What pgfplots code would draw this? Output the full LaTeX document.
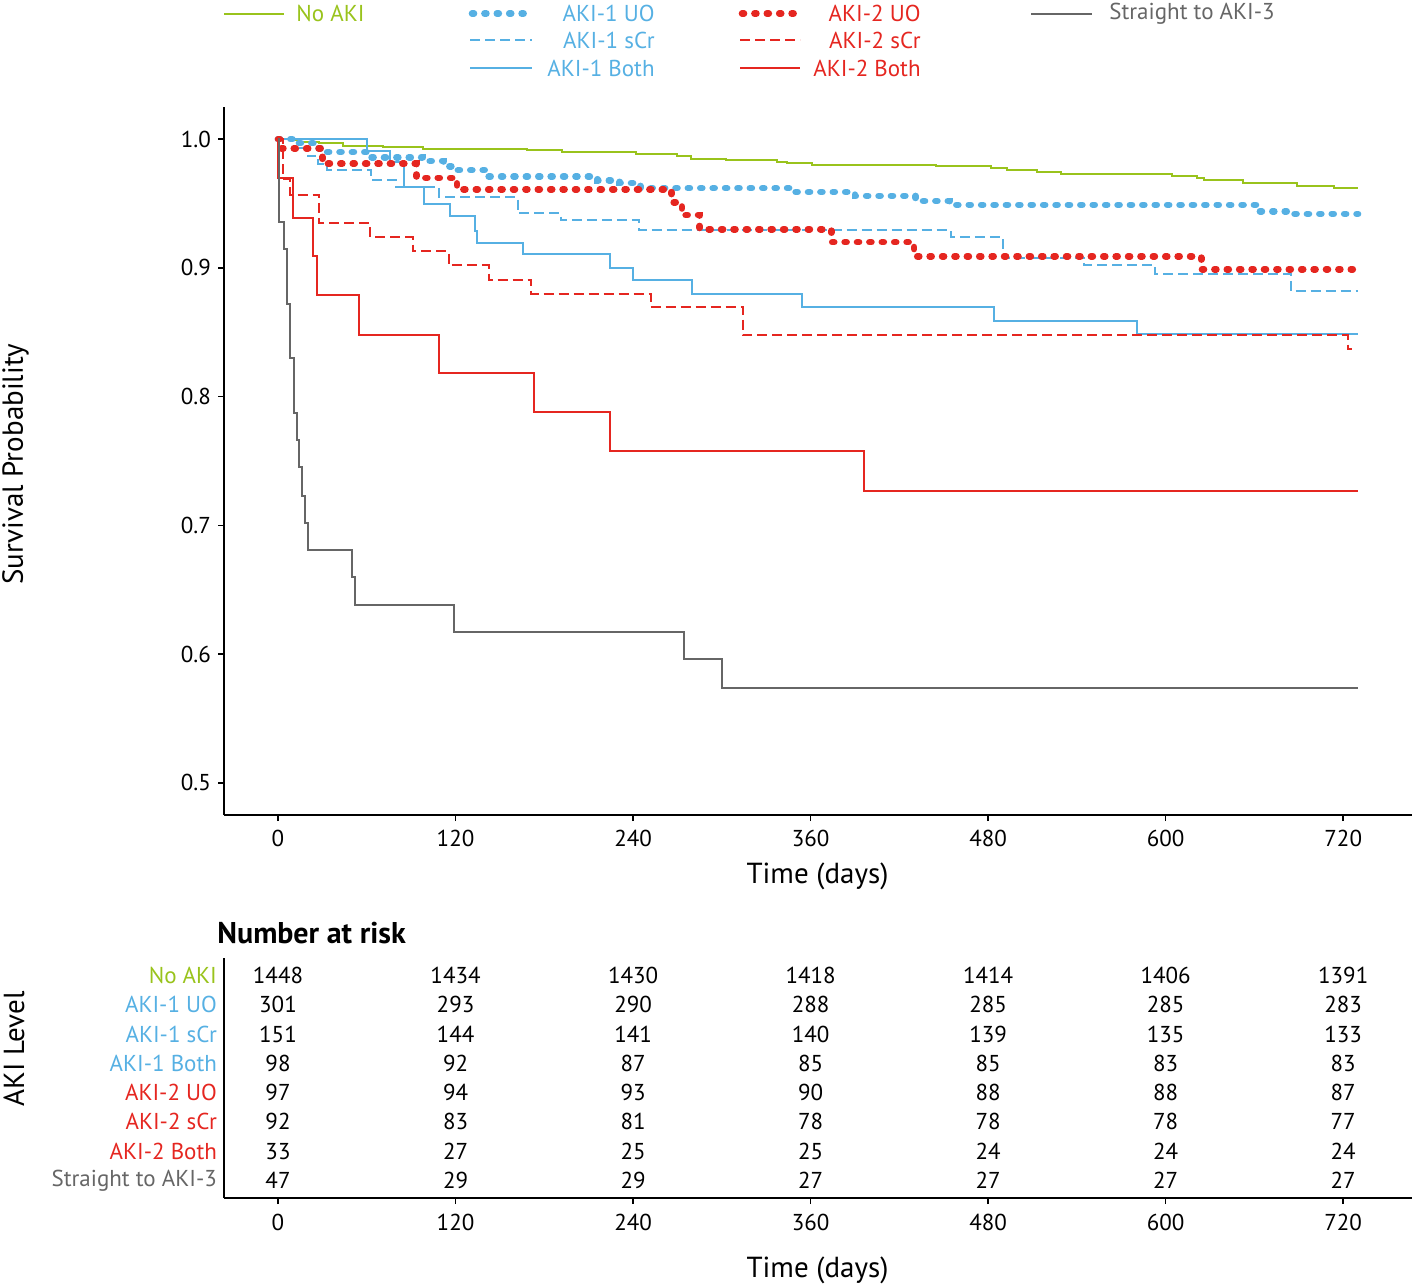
\documentclass[border=0pt]{standalone}
\usepackage{pgfplots}
\pgfplotsset{compat=1.18}
\usepackage{fontspec}
\setmainfont{PT Sans}
\definecolor{cgreen}{HTML}{99C31C}
\definecolor{cblue}{HTML}{56B0E3}
\definecolor{cred}{HTML}{E52620}
\definecolor{cgray}{HTML}{666666}
\newcommand\fs{\fontsize{11.5}{13.8}\selectfont}
\newcommand\fl{\fontsize{14.5}{17}\selectfont}
\tikzset{
  kmthin/.style={line width=1pt},
  kmdash/.style={line width=1pt, dash pattern=on 5pt off 2.5pt},
  kmdot/.style={line width=3.3pt, dash pattern=on 1pt off 5.2pt, line cap=round},
}
\pgfplotsset{
  kmaxis/.style={
    width=594pt, scale only axis,
    xmin=-36.5, xmax=766.5,
    axis lines=left, axis line style={-, line width=1pt, black},
    tick align=outside, major tick length=3pt,
    tick style={line width=0.8pt, black},
    xtick={0,120,240,360,480,600,720},
    xticklabels={0,120,240,360,480,600,720},
    tick label style={font=\fs},
    xticklabel style={yshift=-1pt},
  }
}
\begin{document}
\begin{tikzpicture}
\path[use as bounding box] (0,0) rectangle (709pt,-643.5pt);
% ---------------- main survival plot
\begin{axis}[kmaxis,
  at={(112pt,-407.5pt)}, anchor=south west, height=354pt,
  ymin=0.475, ymax=1.025,
  ytick={0.5,0.6,0.7,0.8,0.9,1.0},
  yticklabels={0.5,0.6,0.7,0.8,0.9,1.0},
]
% No AKI
\addplot[cgreen, kmthin, const plot] coordinates {
(0,1.0) (10,0.999) (15,0.998) (28,0.997) (44,0.995) (71,0.9937) (98,0.9924) (168,0.9913) (192,0.9898) (242,0.9885) (270,0.9867) (279,0.9846) (303,0.9835) (337,0.9823) (344,0.9815) (361,0.9802) (445,0.9789) (482,0.9773) (493,0.9758) (513,0.9742) (529,0.9732) (604,0.9711) (621,0.9695) (626,0.968) (652,0.966) (689,0.9639) (714,0.962) (730,0.962)};
% AKI-1 UO
\addplot[cblue, kmdot, const plot] coordinates {
(0,1.0) (14,0.997) (24,0.993) (32,0.990) (60,0.986) (98,0.983) (112,0.979) (119,0.976) (142,0.971) (216,0.968) (231,0.966) (245,0.962) (349,0.959) (390,0.956) (431,0.952) (454,0.949) (662,0.944) (686,0.942) (730,0.942)};
% AKI-1 sCr
\addplot[cblue, kmdash, const plot] coordinates {
(0,1.0) (15,0.993) (20,0.987) (27,0.981) (33,0.976) (63,0.9685) (80,0.9628) (109,0.955) (162,0.9426) (191,0.937) (244,0.9291) (455,0.9237) (490,0.908) (545,0.9022) (593,0.8952) (685,0.8817) (730,0.8817)};
% AKI-1 Both
\addplot[cblue, kmthin, const plot] coordinates {
(0,1.0) (60,0.991) (76,0.982) (85,0.9628) (98.4,0.950) (116,0.940) (133,0.929) (134.5,0.919) (165.6,0.9108) (224.3,0.900) (239.8,0.8903) (280,0.880) (354,0.8696) (484,0.859) (580.6,0.8489) (730,0.8489)};
% AKI-2 UO
\addplot[cred, kmdot, const plot] coordinates {
(0,1.0) (1.5,0.993) (30,0.981) (93.5,0.970) (121,0.961) (266,0.951) (273,0.941) (285,0.930) (374,0.920) (430,0.909) (624,0.899) (730,0.899)};
% AKI-2 sCr
\addplot[cred, kmdash, const plot] coordinates {
(0,1.0) (3.4,0.969) (8,0.957) (28,0.935) (62.3,0.924) (91,0.913) (115.3,0.902) (142.3,0.891) (171.2,0.880) (251.8,0.870) (314,0.848) (719,0.848) (723,0.837) (726,0.837)};
% AKI-2 Both
\addplot[cred, kmthin, const plot] coordinates {
(0,1.0) (0.3,0.970) (10,0.939) (23.5,0.909) (26.2,0.879) (55,0.848) (109,0.818) (173,0.788) (224.4,0.758) (396,0.727) (730,0.727)};
% Straight to AKI-3
\addplot[cgray, kmthin, const plot] coordinates {
(0,1.0) (0.7,0.936) (4,0.915) (6.3,0.872) (8.3,0.830) (10.8,0.787) (12.8,0.766) (14.1,0.745) (16.2,0.723) (18.3,0.702) (20.3,0.681) (50,0.660) (52,0.638) (118.7,0.617) (274.4,0.596) (300,0.574) (730,0.574)};
\end{axis}
% ---------------- risk table
\begin{axis}[kmaxis,
  at={(112pt,-599pt)}, anchor=south west, height=120pt,
  ymin=0.4, ymax=8.6,
  ytick={1,2,3,4,5,6,7,8},
  yticklabels={{\textcolor{cgray}{Straight to AKI-3}},{\textcolor{cred}{AKI-2 Both}},{\textcolor{cred}{AKI-2 sCr}},{\textcolor{cred}{AKI-2 UO}},{\textcolor{cblue}{AKI-1 Both}},{\textcolor{cblue}{AKI-1 sCr}},{\textcolor{cblue}{AKI-1 UO}},{\textcolor{cgreen}{No AKI}}},
  ytick style={draw=none},
  yticklabel style={xshift=3pt},
  xticklabel style={yshift=-0.5pt},
  every node near coord/.append style={font=\fs, anchor=center, text=black},
  clip=false,
]
\addplot[draw=none, mark=none, nodes near coords, point meta=explicit symbolic] coordinates {(0,8) [1448] (120,8) [1434] (240,8) [1430] (360,8) [1418] (480,8) [1414] (600,8) [1406] (720,8) [1391]};
\addplot[draw=none, mark=none, nodes near coords, point meta=explicit symbolic] coordinates {(0,7) [301] (120,7) [293] (240,7) [290] (360,7) [288] (480,7) [285] (600,7) [285] (720,7) [283]};
\addplot[draw=none, mark=none, nodes near coords, point meta=explicit symbolic] coordinates {(0,6) [151] (120,6) [144] (240,6) [141] (360,6) [140] (480,6) [139] (600,6) [135] (720,6) [133]};
\addplot[draw=none, mark=none, nodes near coords, point meta=explicit symbolic] coordinates {(0,5) [98] (120,5) [92] (240,5) [87] (360,5) [85] (480,5) [85] (600,5) [83] (720,5) [83]};
\addplot[draw=none, mark=none, nodes near coords, point meta=explicit symbolic] coordinates {(0,4) [97] (120,4) [94] (240,4) [93] (360,4) [90] (480,4) [88] (600,4) [88] (720,4) [87]};
\addplot[draw=none, mark=none, nodes near coords, point meta=explicit symbolic] coordinates {(0,3) [92] (120,3) [83] (240,3) [81] (360,3) [78] (480,3) [78] (600,3) [78] (720,3) [77]};
\addplot[draw=none, mark=none, nodes near coords, point meta=explicit symbolic] coordinates {(0,2) [33] (120,2) [27] (240,2) [25] (360,2) [25] (480,2) [24] (600,2) [24] (720,2) [24]};
\addplot[draw=none, mark=none, nodes near coords, point meta=explicit symbolic] coordinates {(0,1) [47] (120,1) [29] (240,1) [29] (360,1) [27] (480,1) [27] (600,1) [27] (720,1) [27]};
\end{axis}
% ---------------- titles
\node[rotate=90, font=\fl] at (7.75pt,-232pt) {Survival Probability};
\node[font=\fl] at (408.75pt,-438pt) {Time (days)};
\node[font=\bfseries\fontsize{15}{18}\selectfont, anchor=base west, inner sep=0pt] at (108.5pt,-471.5pt) {Number at risk};
\node[rotate=90, font=\fl] at (7pt,-524.5pt) {AKI Level};
\node[font=\fl] at (408.75pt,-635pt) {Time (days)};
% ---------------- legend
\begin{scope}[every node/.style={font=\fs, inner sep=0pt}]
\draw[cgreen, kmthin] (112pt,-6.75pt) -- (142pt,-6.75pt);
\node[anchor=west, text=cgreen] at (148pt,-6.75pt) {No AKI};
\draw[cblue, kmdot] (236pt,-6.75pt) -- (266pt,-6.75pt);
\node[anchor=east, text=cblue] at (327.5pt,-6.75pt) {AKI-1 UO};
\draw[cblue, kmdash] (235pt,-20pt) -- (266pt,-20pt);
\node[anchor=east, text=cblue] at (327.5pt,-20pt) {AKI-1 sCr};
\draw[cblue, kmthin] (235pt,-34pt) -- (266pt,-34pt);
\node[anchor=east, text=cblue] at (327.5pt,-34pt) {AKI-1 Both};
\draw[cred, kmdot] (371pt,-6.75pt) -- (400pt,-6.75pt);
\node[anchor=east, text=cred] at (460.5pt,-6.75pt) {AKI-2 UO};
\draw[cred, kmdash] (370pt,-20pt) -- (400pt,-20pt);
\node[anchor=east, text=cred] at (460.5pt,-20pt) {AKI-2 sCr};
\draw[cred, kmthin] (370pt,-34pt) -- (400pt,-34pt);
\node[anchor=east, text=cred] at (460.5pt,-34pt) {AKI-2 Both};
\draw[cgray, kmthin] (515.5pt,-6.75pt) -- (546pt,-6.75pt);
\node[anchor=west, text=cgray] at (554.5pt,-6.75pt) {Straight to AKI-3};
\end{scope}
\end{tikzpicture}
\end{document}
